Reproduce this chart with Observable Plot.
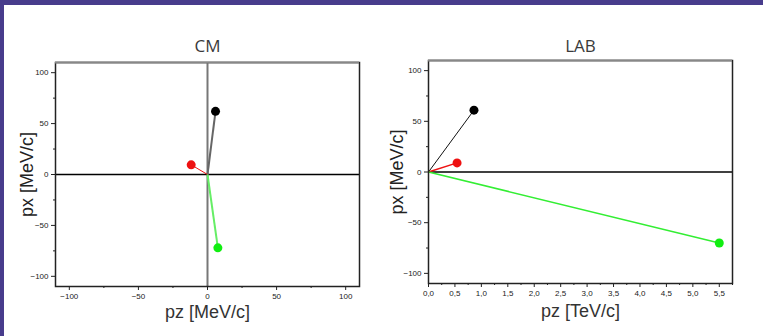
<!DOCTYPE html>
<html>
<head>
<meta charset="utf-8">
<script src="https://cdn.jsdelivr.net/npm/d3@7"></script>
<script src="https://cdn.jsdelivr.net/npm/@observablehq/plot@0.6"></script>
<style>
  html, body { margin: 0; padding: 0; background: #fff; }
  #page { position: relative; width: 763px; height: 336px; overflow: hidden; background: #fff; }
  #bar-top { position: absolute; left: 0; top: 0; width: 763px; height: 5px; background: #483C8C; }
  #bar-left { position: absolute; left: 0; top: 0; width: 4px; height: 336px; background: #483C8C; }
  #cm { position: absolute; left: 0; top: 0; }
  #lab { position: absolute; left: 380px; top: 0; }
</style>
</head>
<body>
<div id="page">
  <div id="cm"></div>
  <div id="lab"></div>
  <div id="bar-top"></div>
  <div id="bar-left"></div>
</div>
<script>
// ---- data ----
const particles = ["black", "red", "green"];
const cmPz = [5.8, -11.8, 7.5];        // MeV/c
const cmPx = [62, 9.5, -72];           // MeV/c
const labPz = [0.86, 0.54, 5.5];       // TeV/c
const labPx = [61, 9, -70];            // MeV/c

const cmTicks = [-100, -50, 0, 50, 100];
const cmMinor = [-75, -25, 25, 75];
const pxTicks = [-100, -50, 0, 50, 100];
const pxMinor = [-75, -25, 25, 75];
const labTicks = [0, 0.5, 1, 1.5, 2, 2.5, 3, 3.5, 4, 4.5, 5, 5.5];
const labTickLabels = ["0,0","0,5","1,0","1,5","2,0","2,5","3,0","3,5","4,0","4,5","5,0","5,5"];
const labMinor = [0.25, 0.75, 1.25, 1.75, 2.25, 2.75, 3.25, 3.75, 4.25, 4.75, 5.25, 5.75];

// ---- styles ----
const pointColor = {black: "#000000", red: "#ee1111", green: "#11ee11"};
const cmLineColor = {black: "#666666", red: "#ee1111", green: "#66ee66"};
const cmLineWidth = {black: 2, red: 1, green: 2};
const labLineColor = {black: "#111111", red: "#ee1111", green: "#33ee33"};
const labLineWidth = {black: 1, red: 1.5, green: 1.5};

const tickFont = "'Liberation Sans', Arial, sans-serif";
const labelFont = "'Liberation Sans', Arial, sans-serif";
const titleFont = "'Open Sans', sans-serif";

const cmData = particles.map((p, i) => ({p, pz: cmPz[i], px: cmPx[i]}));
const labData = particles.map((p, i) => ({p, pz: labPz[i], px: labPx[i]}));

function yAxes() {
  return [
    Plot.axisY(pxTicks, {anchor: "left", tickSize: 4, tickPadding: 3, fontSize: 8, fontFamily: tickFont, color: "#222", label: null, stroke: "#222"}),
    Plot.axisY(pxMinor, {anchor: "left", tickSize: 2, tickFormat: () => "", label: null, stroke: "#222"})
  ];
}

const cmDomain = [-110, 110];
const cm = Plot.plot({
  width: 380, height: 336,
  marginLeft: 55, marginRight: 21, marginTop: 62, marginBottom: 50,
  style: {background: "transparent", overflow: "visible"},
  x: {domain: cmDomain},
  y: {domain: cmDomain},
  marks: [
    Plot.axisX(cmTicks, {anchor: "bottom", tickSize: 4, tickPadding: 3, fontSize: 8, fontFamily: tickFont, color: "#222", label: null, stroke: "#222"}),
    Plot.axisX(cmMinor, {anchor: "bottom", tickSize: 2, tickFormat: () => "", label: null, stroke: "#222"}),
    ...yAxes(),
    Plot.ruleX([0], {stroke: "#777", strokeWidth: 2}),
    Plot.ruleY([0], {stroke: "#000", strokeWidth: 1.3}),
    Plot.link(cmData, {x1: 0, y1: 0, x2: "pz", y2: "px", stroke: d => cmLineColor[d.p], strokeWidth: d => cmLineWidth[d.p]}),
    Plot.dot(cmData, {x: "pz", y: "px", r: 4.5, fill: d => pointColor[d.p], stroke: "none"}),
    Plot.frame({stroke: "#222", strokeWidth: 1.5}),
    Plot.ruleY([cmDomain[1]], {stroke: "#888", strokeWidth: 2}),
    Plot.text(["CM"], {frameAnchor: "top", lineAnchor: "middle", dy: -16, fontSize: 17, fontFamily: titleFont, fill: "#3a3a3a"}),
    Plot.text(["pz [MeV/c]"], {frameAnchor: "bottom", lineAnchor: "middle", dy: 26, fontSize: 18, fontFamily: labelFont, fill: "#333"}),
    Plot.text(["px [MeV/c]"], {frameAnchor: "left", lineAnchor: "middle", textAnchor: "middle", rotate: -90, dx: -28, fontSize: 18, fontFamily: labelFont, fill: "#222"})
  ]
});
document.getElementById("cm").appendChild(cm);

const labXDomain = [0, 5.75];
const labYDomain = [-110, 110];
const lab = Plot.plot({
  width: 383, height: 336,
  marginLeft: 48, marginRight: 31, marginTop: 60, marginBottom: 53,
  style: {background: "transparent", overflow: "visible"},
  x: {domain: labXDomain},
  y: {domain: labYDomain},
  marks: [
    Plot.axisX(labTicks, {anchor: "bottom", tickSize: 4, tickPadding: 3, fontSize: 8, fontFamily: tickFont, color: "#222", label: null, stroke: "#222", tickFormat: (d, i) => labTickLabels[i]}),
    Plot.axisX(labMinor, {anchor: "bottom", tickSize: 2, tickFormat: () => "", label: null, stroke: "#222"}),
    ...yAxes(),
    Plot.ruleY([0], {stroke: "#000", strokeWidth: 1.3}),
    Plot.link(labData, {x1: 0, y1: 0, x2: "pz", y2: "px", stroke: d => labLineColor[d.p], strokeWidth: d => labLineWidth[d.p]}),
    Plot.dot(labData, {x: "pz", y: "px", r: 4.5, fill: d => pointColor[d.p], stroke: "none"}),
    Plot.frame({stroke: "#222", strokeWidth: 1.5}),
    Plot.ruleY([labYDomain[1]], {stroke: "#888", strokeWidth: 2}),
    Plot.text(["LAB"], {frameAnchor: "top", lineAnchor: "middle", dy: -14, fontSize: 17, fontFamily: titleFont, fill: "#3a3a3a"}),
    Plot.text(["pz [TeV/c]"], {frameAnchor: "bottom", lineAnchor: "middle", dy: 28, fontSize: 18, fontFamily: labelFont, fill: "#333"}),
    Plot.text(["px [MeV/c]"], {frameAnchor: "left", lineAnchor: "middle", textAnchor: "middle", rotate: -90, dx: -31, fontSize: 18, fontFamily: labelFont, fill: "#222"})
  ]
});
document.getElementById("lab").appendChild(lab);
</script>
</body>
</html>
